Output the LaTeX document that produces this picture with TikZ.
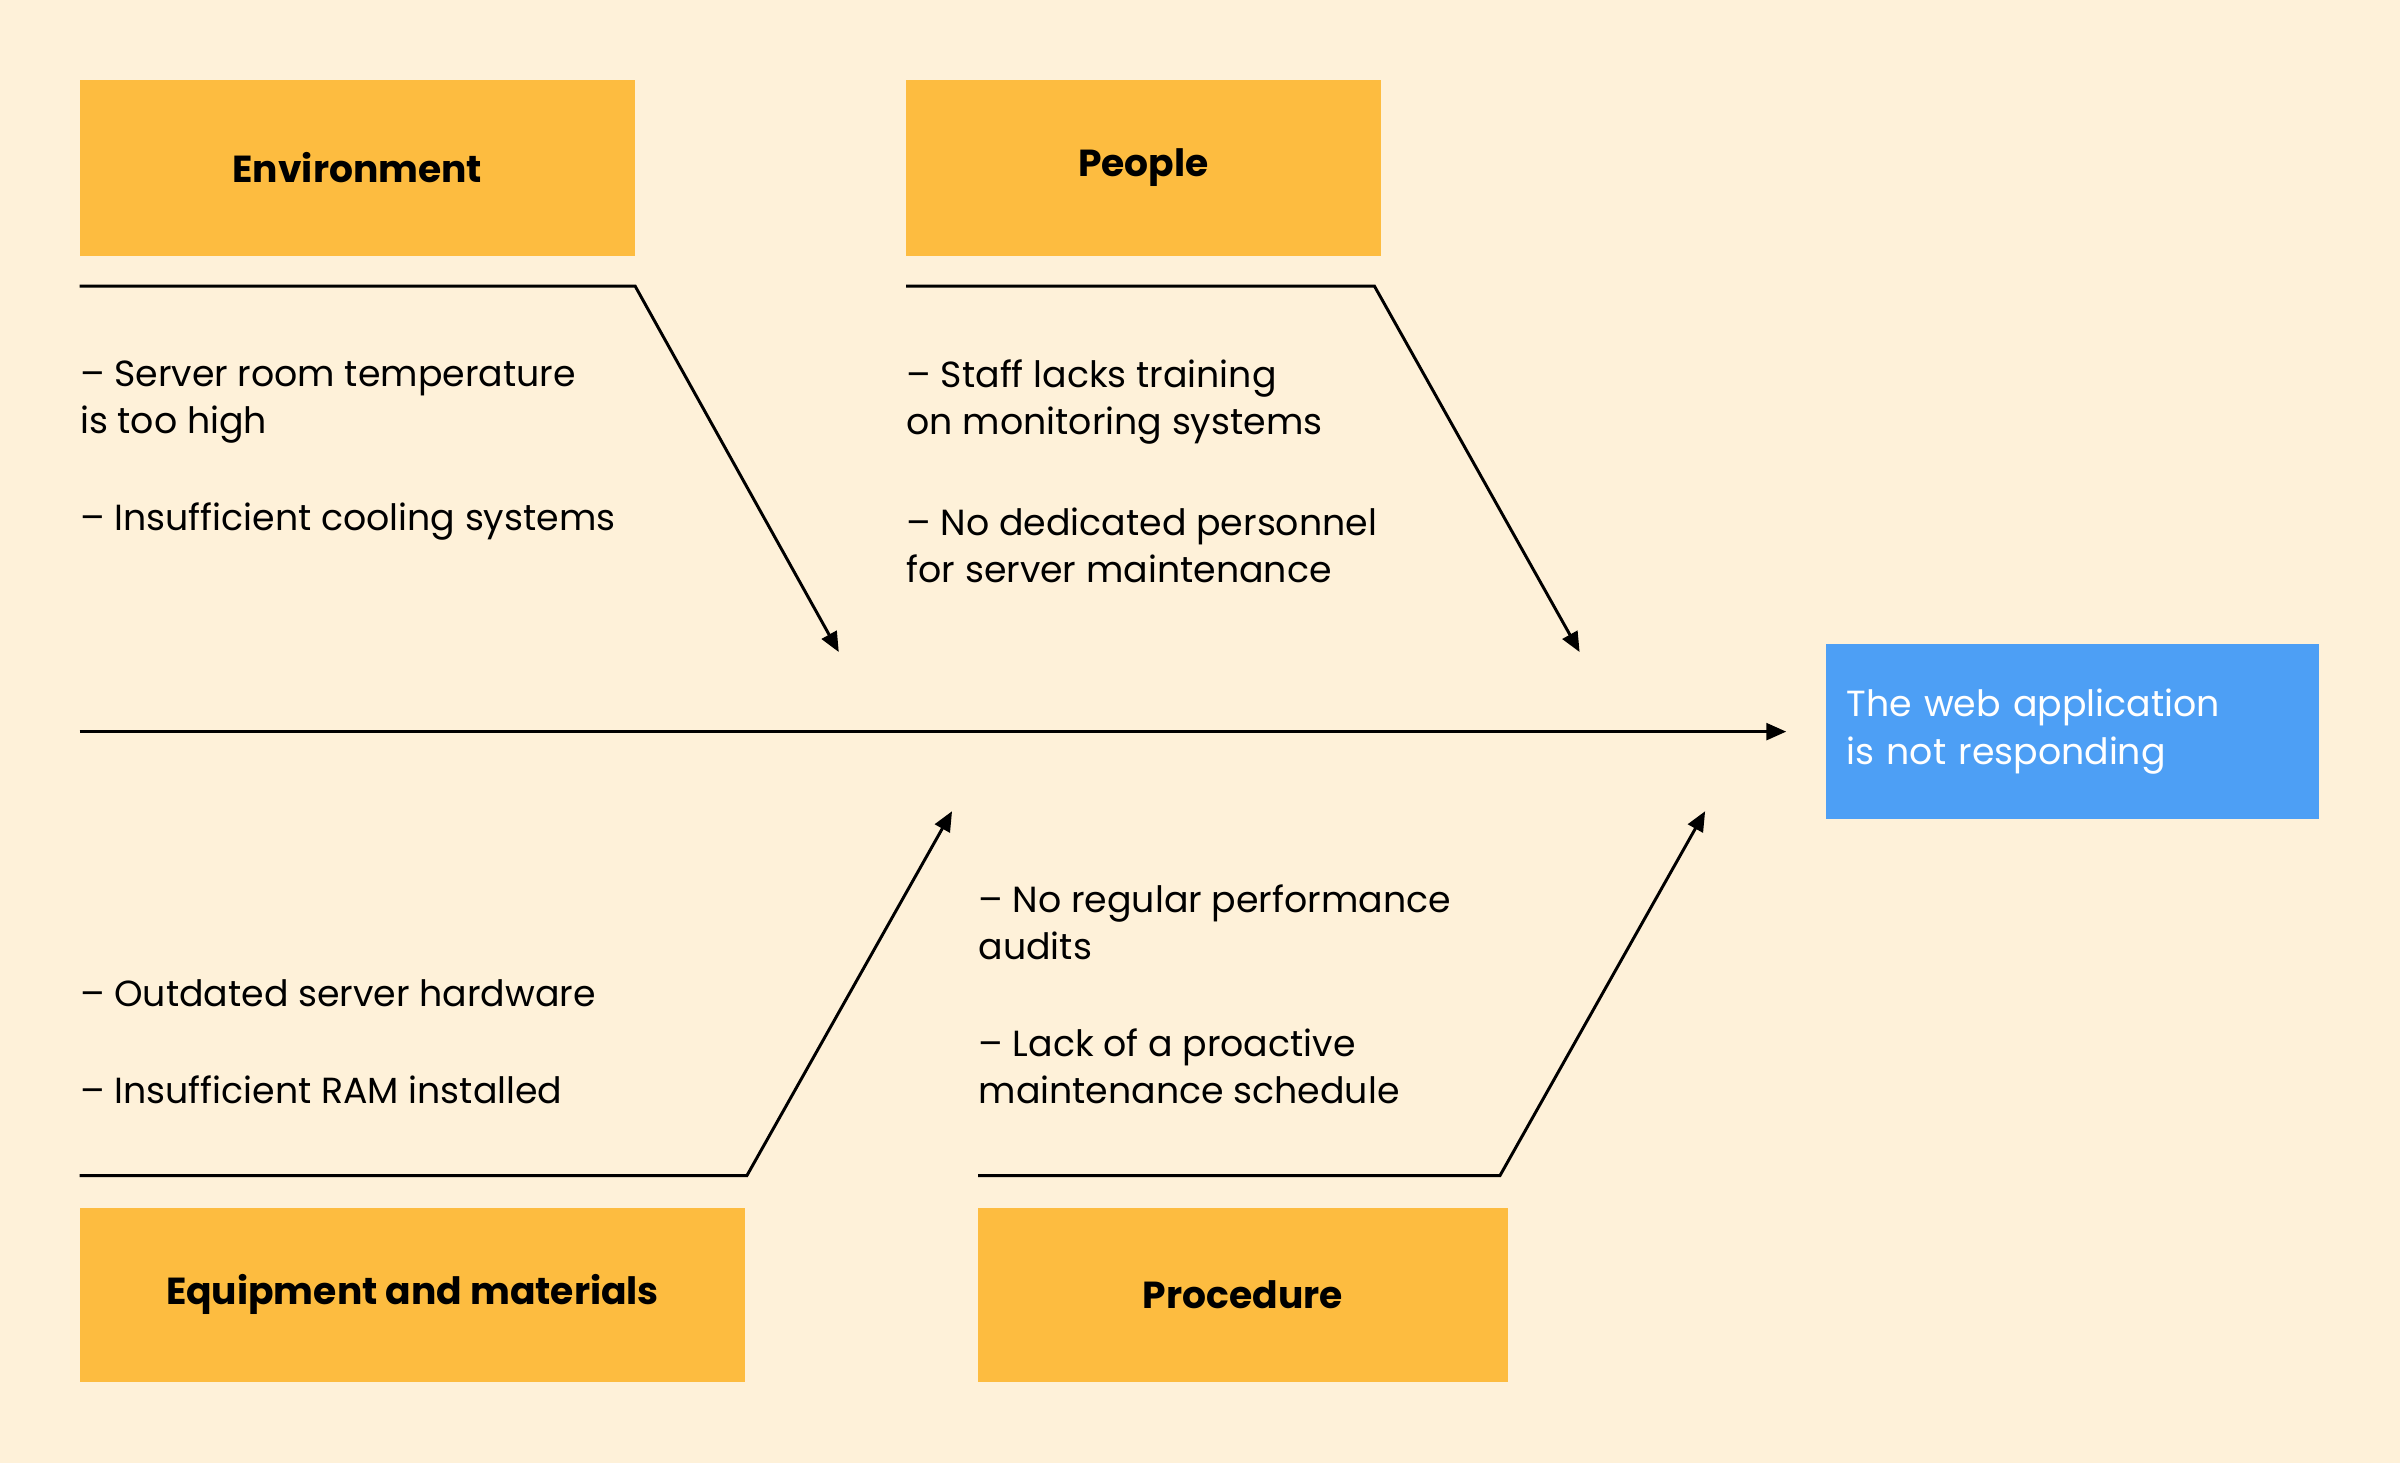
\documentclass[tikz,border=0pt]{standalone}
\usepackage{fontspec}
\setmainfont{Poppins}
\usetikzlibrary{arrows.meta}
\definecolor{bgcream}{HTML}{FEF1D9}
\definecolor{catyellow}{HTML}{FDBC40}
\definecolor{effblue}{HTML}{4D9FF5}
\begin{document}
\begin{tikzpicture}[x=0.02cm,y=-0.02cm,
    cat/.style={fill=catyellow, font=\fontsize{14}{17}\selectfont\bfseries, inner sep=0},
    cause/.style={anchor=west, align=left, inner sep=0, font=\fontsize{13.5}{17.6}\selectfont},
    bone/.style={line width=1.1pt, -{Triangle[length=2.6mm,width=2.2mm]}}]
    \fill[bgcream] (0,0) rectangle (1568,956);
    \useasboundingbox (0,0) rectangle (1568,956);

    % categories
    \node[cat, minimum width=7.26cm, minimum height=2.3cm] (env) at (233.5,109.5) {Environment};
    \node[cat, minimum width=6.2cm, minimum height=2.3cm] (people) at (747,109.5) {People};
    \node[cat, minimum width=8.7cm, minimum height=2.28cm] (equip) at (269.5,846) {Equipment and materials};
    \node[cat, minimum width=6.92cm, minimum height=2.28cm] (proc) at (812,846) {Procedure};
    \node[fill=effblue, text=white, minimum width=6.44cm, minimum height=2.28cm,
          align=left, text width=5.9cm, font=\fontsize{13.5}{17.6}\selectfont] (problem) at (1354,478)
          {The web application\\is not responding};

    % causes
    \node[cause] (env1) at (52,262.5) {– Server room temperature\\is too high};
    \node[cause] (env2) at (52,341) {– Insufficient cooling systems};
    \node[cause] (ppl1) at (592,262.5) {– Staff lacks training\\on monitoring systems};
    \node[cause] (ppl2) at (592,356.5) {– No dedicated personnel\\for server maintenance};
    \node[cause] (eq1) at (52,649) {– Outdated server hardware};
    \node[cause] (eq2) at (52,712) {– Insufficient RAM installed};
    \node[cause] (pr1) at (639,602.5) {– No regular performance\\audits};
    \node[cause] (pr2) at (639,696.5) {– Lack of a proactive\\maintenance schedule};

    % spine and bones
    \coordinate (tail) at (52,478);
    \coordinate (head) at (1167,478);
    \draw[bone] (tail) -- (head);
    \draw[bone] (52,187) -- (415,187) -- (548,426);
    \draw[bone] (592,187) -- (898,187) -- (1032,426);
    \draw[bone] (52,768) -- (488,768) -- (622,530);
    \draw[bone] (639,768) -- (980,768) -- (1114,530);
\end{tikzpicture}
\end{document}
